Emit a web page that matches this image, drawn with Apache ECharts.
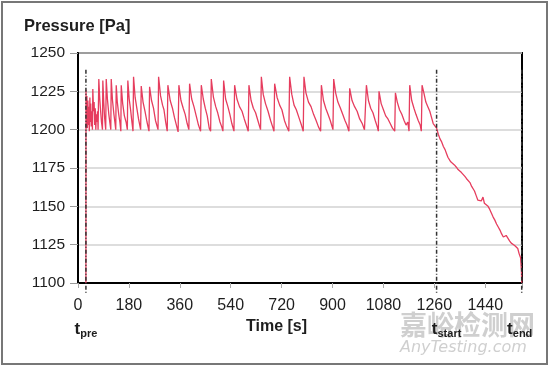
<!DOCTYPE html>
<html>
<head>
<meta charset="utf-8">
<script src="https://cdn.jsdelivr.net/npm/echarts@6/dist/echarts.min.js"></script>
<style>html,body{margin:0;padding:0;background:#fff}#c{width:550px;height:367px}</style>
</head>
<body>
<div id="c"></div>
<script>
// ---- data ----
const timeS = [
  28, 28.3, 30, 31.5, 33, 35, 36.5, 38, 40, 42, 43.5, 45, 47, 49, 51, 52.4, 55, 57, 59, 61, 63, 65, 67, 69, 71,
  73.6, 77, 80, 83, 86.5,
  87.8, 91, 94, 98,
  99.8, 104, 109, 113, 116,
  117.5, 122, 127, 131, 133.5,
  135.2, 139, 144, 148, 151.5,
  152.9, 158, 164, 170, 174.5,
  176.2, 181, 186, 190, 194.5,
  196.4, 202, 208, 214, 221.5,
  223.6, 230, 237, 244, 251,
  253.2, 260, 267, 274, 283,
  285, 292, 299, 304, 310, 315.5,
  317.8, 326, 334, 341, 348, 354,
  356.7, 364, 372, 379, 386, 392,
  394.6, 402, 410, 418, 426, 433.5,
  436, 443, 450, 457, 464, 469,
  471.3, 479, 487, 494, 502, 508, 512.5,
  514.9, 522, 530, 537, 544, 551.5,
  553.8, 562, 571, 580, 588, 595, 602,
  604.4, 612, 620, 628, 636, 645.5,
  648.3, 655, 663, 672, 681, 688, 693,
  695.3, 704, 713, 721, 730, 738, 745.5,
  748.4, 756, 764, 772, 781, 790, 796.5,
  799, 806, 815, 824, 833, 842, 850, 858,
  860.6, 868, 876, 884, 892, 901.5,
  904.1, 911, 919, 928, 936, 944, 951, 958,
  960.7, 969, 978, 987, 996, 1005, 1013, 1017.5,
  1019.8, 1027, 1035, 1043, 1051, 1058, 1062,
  1064.4, 1072, 1080, 1088, 1096, 1104, 1112, 1120,
  1122.4, 1129, 1137, 1145, 1153, 1160, 1166, 1170.5,
  1173, 1180, 1188, 1195, 1203, 1210, 1214,
  1216.6, 1223, 1230, 1237, 1244, 1250, 1256, 1262, 1268,
  1274, 1280, 1286, 1292, 1298, 1303, 1308, 1313, 1318, 1325, 1331, 1338, 1344, 1350, 1356, 1362,
  1368, 1374, 1380, 1386, 1392, 1397, 1402, 1408, 1414, 1420, 1426, 1432, 1437, 1443, 1450, 1456,
  1462, 1468, 1474, 1480, 1486, 1492, 1498, 1504, 1509, 1514, 1520, 1526, 1532, 1538, 1544, 1550,
  1555, 1560, 1565, 1568, 1569
];
const pressurePa = [
  1100, 1226, 1204, 1222, 1201, 1219, 1203, 1215, 1199, 1221, 1205, 1217, 1202, 1212, 1200, 1226.5, 1212, 1218, 1203, 1214, 1200, 1210, 1205, 1212, 1200,
  1233, 1220, 1212, 1205, 1200,
  1232, 1218, 1208, 1200,
  1233, 1220, 1210, 1204, 1200,
  1233, 1219, 1210, 1204, 1200,
  1229, 1218, 1210, 1205, 1199,
  1229, 1217, 1209, 1205, 1200,
  1232, 1220, 1213, 1206, 1199,
  1234.5, 1221, 1214, 1207, 1200,
  1228.5, 1218, 1212, 1205, 1199,
  1228, 1219, 1214, 1206, 1200,
  1234.5, 1222, 1216, 1213, 1205, 1199,
  1229, 1219, 1214, 1208, 1203, 1198.5,
  1229, 1219, 1214, 1210, 1204, 1200,
  1230, 1220, 1215, 1209, 1203, 1199,
  1229, 1220, 1214, 1209, 1201, 1199,
  1233, 1221, 1215, 1211, 1205, 1202, 1199,
  1232, 1220, 1215, 1210, 1204, 1199,
  1229, 1220, 1215, 1212, 1207, 1203, 1199,
  1229, 1219, 1214, 1211, 1206, 1200,
  1234.5, 1223, 1217, 1212, 1206, 1202, 1199,
  1230, 1221, 1216, 1213, 1206, 1202, 1199,
  1234.5, 1223, 1216, 1213, 1208, 1203, 1199,
  1234.5, 1224, 1218, 1215, 1210, 1206, 1202, 1199,
  1229, 1219, 1214, 1210, 1206, 1200,
  1233, 1224, 1218, 1214, 1210, 1206, 1203, 1199,
  1227, 1219, 1215, 1212, 1207, 1204, 1200, 1199,
  1229, 1219, 1214, 1211, 1206, 1202, 1199,
  1225, 1217, 1213, 1209, 1207, 1204, 1201, 1199,
  1224, 1218, 1213, 1210, 1206, 1203, 1205, 1199,
  1229, 1219, 1214, 1210, 1206, 1203, 1199,
  1229, 1224, 1218, 1215, 1212, 1208, 1204, 1205, 1201,
  1197, 1194, 1192, 1189, 1187, 1184.5, 1182, 1181.5, 1179, 1178.5, 1177, 1175.5, 1174, 1173.5, 1172, 1171,
  1169.5, 1168, 1167, 1165.5, 1163, 1164, 1160, 1157, 1154, 1153, 1153.5, 1156, 1152, 1151.5, 1150, 1148,
  1145.5, 1143, 1141, 1138.5, 1136.5, 1134.5, 1132, 1130, 1129, 1131, 1130.5, 1127.5, 1126, 1125, 1124.5, 1124,
  1122.5, 1119, 1116.5, 1108, 1100
];
const markerTimes = [28, 1268, 1569];
const markerSubs = ['pre', 'start', 'end'];
const yTicks = [1100, 1250, 25];      // min, max, step
const xTicks = [0, 1570, 180];        // min, max, step
const yName = 'Pressure [Pa]';
const xName = 'Time [s]';

// ---- rendering ----
const FONT = 'Liberation Sans, Arial, sans-serif';
const TXT = '#1e1e1e';
const labelDx = [0, 10, -2];
const markerSpan = [1093.5, 1239];

const chart = echarts.init(document.getElementById('c'), null, {renderer: 'canvas'});
const lineData = timeS.map((t, i) => [t, pressurePa[i]]);

chart.setOption({
  animation: false,
  backgroundColor: '#fff',
  title: {
    text: yName, left: 24, top: 18, padding: 0,
    textStyle: {fontFamily: FONT, fontSize: 16.5, fontWeight: 'bold', color: TXT}
  },
  grid: {left: 78, right: 28, top: 53, bottom: 84, show: true, borderColor: '#000', borderWidth: 2, backgroundColor: 'transparent'},
  xAxis: {
    type: 'value', min: xTicks[0], max: xTicks[1], interval: xTicks[2],
    name: xName, nameLocation: 'middle', nameGap: 36,
    nameTextStyle: {fontFamily: FONT, fontSize: 16, fontWeight: 'bold', color: TXT, padding: [0, 47, 0, 0]},
    axisLine: {show: true, lineStyle: {color: '#000', width: 2}},
    axisTick: {show: true, length: 5, lineStyle: {color: '#aaa'}},
    axisLabel: {
      margin: 15, fontFamily: FONT, fontSize: 16, color: TXT,
      formatter: v => (v % xTicks[2] === 0 ? String(v) : '')
    },
    splitLine: {show: false}
  },
  yAxis: {
    type: 'value', min: yTicks[0], max: yTicks[1], interval: yTicks[2],
    axisLine: {show: true, lineStyle: {color: '#000', width: 2}},
    axisTick: {show: true, length: 8, lineStyle: {color: '#999'}},
    axisLabel: {margin: 13, fontFamily: FONT, fontSize: 15.5, color: TXT, formatter: v => String(v)},
    splitLine: {show: true, lineStyle: {color: '#d2d2d2', width: 1.5}}
  },
  graphic: [
    {type: 'rect', shape: {x: 2, y: 2, width: 545, height: 362}, style: {fill: 'none', stroke: '#777', lineWidth: 2}, z: 0},
    {type: 'text', left: 400, top: 311, z: 0,
     style: {text: '嘉峪检测网', font: 'bold 27px "Noto Sans CJK SC"', fill: 'rgba(175,175,175,0.6)'}},
    {type: 'text', left: 400, top: 340, z: 0,
     style: {text: 'AnyTesting.com', font: 'italic 16px "DejaVu Sans"', fill: 'rgba(175,175,175,0.6)'}}
  ],
  series: [
    {
      type: 'line', data: lineData, showSymbol: false, symbol: 'none',
      lineStyle: {color: '#e63d5e', width: 1.3}, z: 3
    },
    {
      type: 'custom', clip: false, z: 4,
      data: markerTimes.map((t, i) => [t, i]),
      renderItem: function (params, api) {
        const t = api.value(0);
        const i = api.value(1);
        const top = api.coord([t, markerSpan[1]]);
        const bot = api.coord([t, markerSpan[0]]);
        const base = api.coord([t, yTicks[0]]);
        return {
          type: 'group',
          children: [
            {type: 'line', shape: {x1: top[0], y1: top[1], x2: bot[0], y2: bot[1]},
             style: {stroke: '#333', lineWidth: 1.5, lineDash: [4, 2, 1, 2]}},
            {type: 'text', x: base[0] + labelDx[i], y: base[1] + 36,
             style: {
               text: '{t|t}{s|' + markerSubs[i] + '}',
               textAlign: 'center', textVerticalAlign: 'top',
               rich: {
                 t: {fontFamily: FONT, fontSize: 17, fontWeight: 'bold', fill: TXT, lineHeight: 20},
                 s: {fontFamily: FONT, fontSize: 11, fontWeight: 'bold', fill: TXT, lineHeight: 12, verticalAlign: 'bottom'}
               }
             }}
          ]
        };
      }
    }
  ]
});
</script>
</body>
</html>
